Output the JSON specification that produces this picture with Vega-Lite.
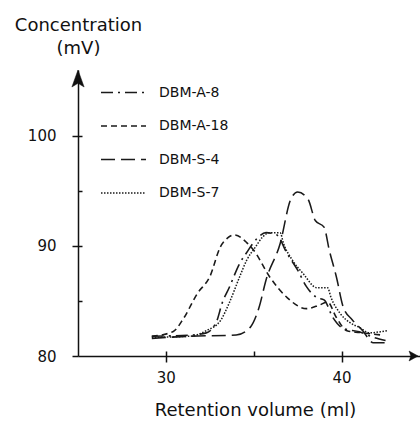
{
  "$schema": "https://vega.github.io/schema/vega-lite/v6.json",
  "width": 342,
  "height": 286,
  "autosize": "none",
  "padding": {"left": 78, "top": 70, "right": 0, "bottom": 68},
  "background": "white",
  "config": {
    "font": "DejaVu Sans",
    "view": {"stroke": null},
    "axis": {"grid": false, "domainColor": "#111", "tickColor": "#111", "labelColor": "#111", "titleColor": "#111", "domainWidth": 1.5, "tickWidth": 1.5}
  },
  "resolve": {"axis": {"x": "independent", "y": "independent"}},
  "layer": [
    {
      "data": {
        "values": [
          {"series": "DBM-A-8", "v": 29.2, "c": 81.8},
          {"series": "DBM-A-8", "v": 31.4, "c": 81.9},
          {"series": "DBM-A-8", "v": 32.3, "c": 82.1},
          {"series": "DBM-A-8", "v": 32.9, "c": 83.2},
          {"series": "DBM-A-8", "v": 33.2, "c": 84.8},
          {"series": "DBM-A-8", "v": 33.6, "c": 86.2},
          {"series": "DBM-A-8", "v": 34.2, "c": 88.4},
          {"series": "DBM-A-8", "v": 34.6, "c": 89.4},
          {"series": "DBM-A-8", "v": 35.2, "c": 90.7},
          {"series": "DBM-A-8", "v": 35.7, "c": 91.2},
          {"series": "DBM-A-8", "v": 36.3, "c": 91.0},
          {"series": "DBM-A-8", "v": 36.9, "c": 89.3},
          {"series": "DBM-A-8", "v": 37.5, "c": 87.8},
          {"series": "DBM-A-8", "v": 38.0, "c": 86.3},
          {"series": "DBM-A-8", "v": 38.6, "c": 85.3},
          {"series": "DBM-A-8", "v": 39.0, "c": 85.1},
          {"series": "DBM-A-8", "v": 39.5, "c": 83.5},
          {"series": "DBM-A-8", "v": 40.1, "c": 82.5},
          {"series": "DBM-A-8", "v": 41.0, "c": 82.2},
          {"series": "DBM-A-8", "v": 41.8, "c": 81.7},
          {"series": "DBM-A-8", "v": 42.5, "c": 81.4},

          {"series": "DBM-A-18", "v": 29.2, "c": 81.8},
          {"series": "DBM-A-18", "v": 30.4, "c": 82.2},
          {"series": "DBM-A-18", "v": 31.0, "c": 83.4},
          {"series": "DBM-A-18", "v": 31.8, "c": 85.7},
          {"series": "DBM-A-18", "v": 32.5, "c": 87.2},
          {"series": "DBM-A-18", "v": 33.1, "c": 89.9},
          {"series": "DBM-A-18", "v": 33.5, "c": 90.7},
          {"series": "DBM-A-18", "v": 33.9, "c": 91.0},
          {"series": "DBM-A-18", "v": 34.6, "c": 90.3},
          {"series": "DBM-A-18", "v": 35.0, "c": 89.6},
          {"series": "DBM-A-18", "v": 35.9, "c": 87.2},
          {"series": "DBM-A-18", "v": 36.9, "c": 85.3},
          {"series": "DBM-A-18", "v": 38.0, "c": 84.3},
          {"series": "DBM-A-18", "v": 38.7, "c": 84.6},
          {"series": "DBM-A-18", "v": 39.2, "c": 84.9},
          {"series": "DBM-A-18", "v": 39.7, "c": 83.5},
          {"series": "DBM-A-18", "v": 40.3, "c": 82.3},
          {"series": "DBM-A-18", "v": 41.2, "c": 82.1},
          {"series": "DBM-A-18", "v": 42.3, "c": 81.9},

          {"series": "DBM-S-4", "v": 29.2, "c": 81.6},
          {"series": "DBM-S-4", "v": 31.4, "c": 81.8},
          {"series": "DBM-S-4", "v": 34.0, "c": 81.9},
          {"series": "DBM-S-4", "v": 34.8, "c": 82.6},
          {"series": "DBM-S-4", "v": 35.3, "c": 84.4},
          {"series": "DBM-S-4", "v": 35.7, "c": 86.9},
          {"series": "DBM-S-4", "v": 36.5, "c": 90.2},
          {"series": "DBM-S-4", "v": 37.1, "c": 94.2},
          {"series": "DBM-S-4", "v": 37.5, "c": 94.9},
          {"series": "DBM-S-4", "v": 38.1, "c": 94.2},
          {"series": "DBM-S-4", "v": 38.5, "c": 92.3},
          {"series": "DBM-S-4", "v": 39.0, "c": 91.7},
          {"series": "DBM-S-4", "v": 39.3, "c": 89.6},
          {"series": "DBM-S-4", "v": 39.7, "c": 87.2},
          {"series": "DBM-S-4", "v": 40.1, "c": 84.4},
          {"series": "DBM-S-4", "v": 40.6, "c": 83.3},
          {"series": "DBM-S-4", "v": 41.2, "c": 82.3},
          {"series": "DBM-S-4", "v": 41.8, "c": 81.2},
          {"series": "DBM-S-4", "v": 42.5, "c": 81.2},

          {"series": "DBM-S-7", "v": 29.2, "c": 81.7},
          {"series": "DBM-S-7", "v": 31.4, "c": 81.8},
          {"series": "DBM-S-7", "v": 32.3, "c": 82.3},
          {"series": "DBM-S-7", "v": 33.1, "c": 83.2},
          {"series": "DBM-S-7", "v": 33.6, "c": 84.8},
          {"series": "DBM-S-7", "v": 34.2, "c": 87.2},
          {"series": "DBM-S-7", "v": 34.6, "c": 88.7},
          {"series": "DBM-S-7", "v": 35.1, "c": 89.9},
          {"series": "DBM-S-7", "v": 35.5, "c": 90.8},
          {"series": "DBM-S-7", "v": 35.9, "c": 91.2},
          {"series": "DBM-S-7", "v": 36.5, "c": 91.2},
          {"series": "DBM-S-7", "v": 36.7, "c": 90.2},
          {"series": "DBM-S-7", "v": 37.2, "c": 88.7},
          {"series": "DBM-S-7", "v": 37.8, "c": 87.5},
          {"series": "DBM-S-7", "v": 38.6, "c": 86.2},
          {"series": "DBM-S-7", "v": 39.2, "c": 86.2},
          {"series": "DBM-S-7", "v": 39.4, "c": 85.3},
          {"series": "DBM-S-7", "v": 39.9, "c": 83.9},
          {"series": "DBM-S-7", "v": 40.5, "c": 83.0},
          {"series": "DBM-S-7", "v": 41.0, "c": 82.6},
          {"series": "DBM-S-7", "v": 41.6, "c": 82.1},
          {"series": "DBM-S-7", "v": 42.2, "c": 82.2},
          {"series": "DBM-S-7", "v": 42.6, "c": 82.3}
        ]
      },
      "mark": {"type": "line", "interpolate": "monotone", "color": "#1a1a1a"},
      "encoding": {
        "x": {
          "field": "v", "type": "quantitative",
          "scale": {"domain": [25, 44.46], "nice": false, "zero": false},
          "axis": {
            "orient": "bottom", "values": [30, 40], "tickSize": 6,
            "labelFontSize": 15, "labelPadding": 8, "labelFlush": false,
            "title": "Retention volume (ml)", "titleFontSize": 18, "titleFontWeight": "normal",
            "titleX": 177, "titleY": 59, "titleBaseline": "alphabetic"
          }
        },
        "y": {
          "field": "c", "type": "quantitative",
          "scale": {"domain": [80, 105.97], "nice": false, "zero": false},
          "axis": {
            "orient": "left", "values": [80, 90, 100], "tickSize": 6,
            "labelFontSize": 15, "labelPadding": 16, "labelFlush": false,
            "title": ["Concentration", "(mV)"], "titleFontSize": 18, "titleFontWeight": "normal",
            "titleAngle": 0, "titleAlign": "center", "titleX": 0, "titleY": -40,
            "titleBaseline": "alphabetic", "titleLineHeight": 23
          }
        },
        "strokeDash": {
          "field": "series", "type": "nominal",
          "scale": {
            "domain": ["DBM-A-8", "DBM-A-18", "DBM-S-4", "DBM-S-7"],
            "range": [[12, 5, 2, 5], [6, 4], [14, 6], [1.5, 1.5]]
          },
          "legend": {
            "orient": "none", "legendX": 22, "legendY": -1,
            "title": null, "symbolType": "stroke", "symbolSize": 2025,
            "symbolStrokeColor": "#1a1a1a", "labelFontSize": 14, "labelColor": "#111",
            "labelOffset": 12, "rowPadding": 2.5
          }
        },
        "strokeWidth": {
          "field": "series", "type": "nominal",
          "scale": {
            "domain": ["DBM-A-8", "DBM-A-18", "DBM-S-4", "DBM-S-7"],
            "range": [1.6, 1.5, 2.2, 1.6]
          },
          "legend": null
        }
      }
    },
    {
      "data": {"values": [{}]},
      "mark": {"type": "point", "shape": "M0,0L0.36,1L0,0.78L-0.36,1Z", "filled": true, "fill": "#111", "stroke": "#111", "strokeWidth": 0.5, "size": 1156, "opacity": 1},
      "encoding": {
        "x": {"datum": 25, "type": "quantitative", "axis": {"orient": "bottom", "values": [30, 35, 40], "tickSize": -5, "labels": false, "domain": false, "title": null}},
        "y": {"datum": 105.97, "type": "quantitative", "axis": {"orient": "left", "values": [85, 90, 95, 100], "tickSize": -4, "labels": false, "domain": false, "title": null}}
      }
    },
    {
      "data": {"values": [{}]},
      "mark": {"type": "point", "shape": "M0,0L-1,-0.55L-0.8,0L-1,0.55Z", "filled": true, "fill": "#111", "stroke": "#111", "strokeWidth": 0.5, "size": 324, "opacity": 1},
      "encoding": {
        "x": {"datum": 44.35, "type": "quantitative", "axis": null},
        "y": {"datum": 80, "type": "quantitative", "axis": null}
      }
    }
  ]
}
